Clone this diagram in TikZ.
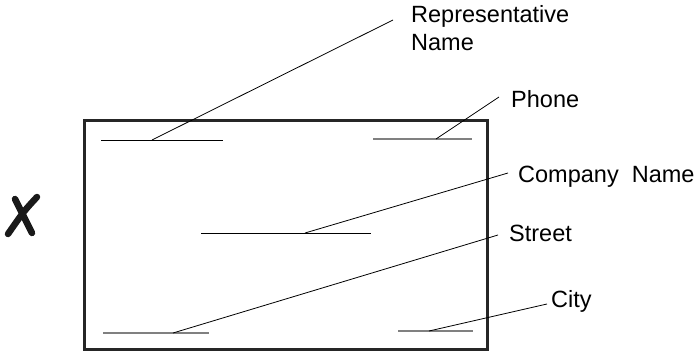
\documentclass[tikz,border=0pt]{standalone}
\usepackage{fontspec}
\setmainfont{Liberation Sans}
\begin{document}
\begin{tikzpicture}[x=1pt,y=-1pt,
  lbl/.style={inner sep=0pt,font=\fontsize{23.5}{28}\selectfont},
  field/.style={line width=0.9pt,draw=black},
  fieldgray/.style={line width=1.3pt,draw=black!50},
  leader/.style={line width=0.8pt,draw=black},
  frame/.style={line width=3pt,draw=black!85}]
\useasboundingbox (0,0) rectangle (698,352);
% card frame
\draw[frame] (84,121) rectangle (487,349);
% field lines
\coordinate (r1) at (101,140); \coordinate (r2) at (223,140); \coordinate (ra) at (152,140);
\coordinate (p1) at (373,139); \coordinate (p2) at (472,139); \coordinate (pa) at (436,139);
\coordinate (c1) at (201,233); \coordinate (c2) at (371,233); \coordinate (ca) at (305,233);
\coordinate (s1) at (103,333); \coordinate (s2) at (209,333); \coordinate (sa) at (173,333);
\coordinate (y1) at (398,331); \coordinate (y2) at (473,331); \coordinate (ya) at (429,331);
\draw[field] (r1) -- (r2);
\draw[fieldgray] (p1) -- (p2);
\draw[field] (c1) -- (c2);
\draw[fieldgray] (s1) -- (s2);
\draw[fieldgray] (y1) -- (y2);
% labels
\node[lbl,anchor=north west,align=left] (rep) at (411,5.5) {Representative\\Name};
\node[lbl,anchor=base west] (phone) at (511,108) {Phone};
\node[lbl,anchor=base west] (comp) at (518,183) {Company\ \ Name};
\node[lbl,anchor=base west] (street) at (509,242) {Street};
\node[lbl,anchor=base west] (city) at (551,308) {City};
% leader ends
\coordinate (re) at (393,20);
\coordinate (pe) at (499,97);
\coordinate (ce) at (508,173);
\coordinate (se) at (498,235);
\coordinate (ye) at (547,304);
\draw[leader] (ra) -- (re);
\draw[leader] (pa) -- (pe);
\draw[leader] (ca) -- (ce);
\draw[leader] (sa) -- (se);
\draw[leader] (ya) -- (ye);
% X mark
\draw[line width=6.5pt,line cap=round,black!90] (15,199) -- (32,233);
\draw[line width=6.5pt,line cap=round,black!90] (37,197) .. controls (24,211) .. (8,234);
\end{tikzpicture}
\end{document}
